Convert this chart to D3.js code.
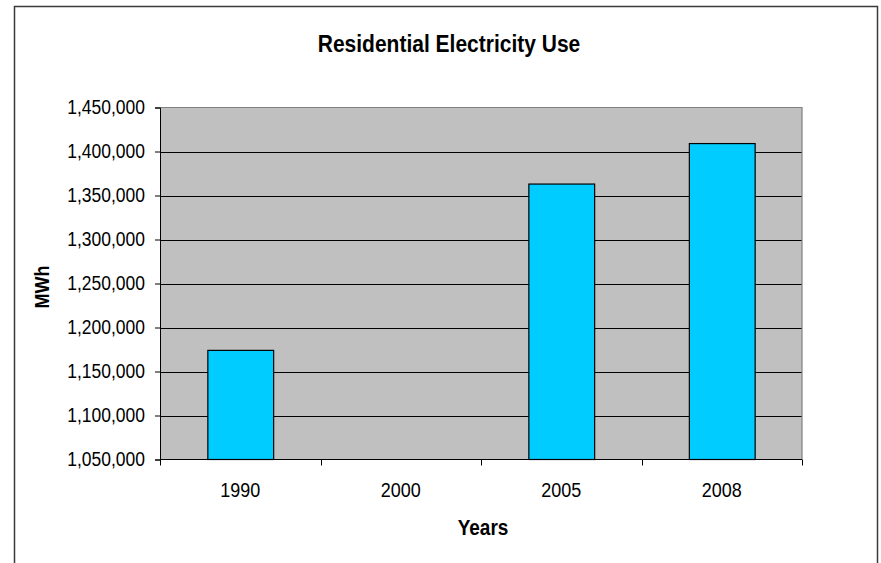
<!DOCTYPE html>
<html>
<head>
<meta charset="utf-8">
<script src="https://cdn.jsdelivr.net/npm/d3@7"></script>
<style>
  html, body { margin: 0; padding: 0; background: #fff; }
  svg { display: block; }
  text { font-family: "Liberation Sans", Arial, sans-serif; fill: #000; }
</style>
</head>
<body>
<svg id="chart" width="881" height="563"></svg>
<script>
const title = "Residential Electricity Use";
const xTitle = "Years";
const yTitle = "MWh";
const categories = ["1990", "2000", "2005", "2008"];
const values = [1174000, null, 1363000, 1409000];
const yTicks = [1050000, 1100000, 1150000, 1200000, 1250000, 1300000, 1350000, 1400000, 1450000];
const yDomain = [1050000, 1450000];

const W = 881, H = 563;
const plot = { left: 160, right: 802, top: 107.5, bottom: 459.5 };
const SY = 1.12; // vertical stretch of the reference's text

const svg = d3.select("#chart");

// outer chart border (left, top, right; bottom is off-frame)
svg.append("path")
  .attr("d", `M14.5,${H} L14.5,6.5 L877.5,6.5 L877.5,${H}`)
  .attr("fill", "none").attr("stroke", "#3a3a3a").attr("stroke-width", 1.5);

const x = d3.scaleBand().domain(categories).range([plot.left, plot.right]).paddingInner(0.59).paddingOuter(0.295);
const xb = d3.scaleBand().domain(categories).range([plot.left, plot.right]);
const y = d3.scaleLinear().domain(yDomain).range([plot.bottom, plot.top]);

// plot background
svg.append("rect")
  .attr("x", plot.left).attr("y", plot.top)
  .attr("width", plot.right - plot.left).attr("height", plot.bottom - plot.top)
  .attr("fill", "#c0c0c0");

// gridlines
svg.append("g").selectAll("line")
  .data(yTicks.filter(d => d !== yDomain[0] && d !== yDomain[1]))
  .join("line")
  .attr("x1", plot.left).attr("x2", plot.right)
  .attr("y1", d => Math.round(y(d)) + 0.5).attr("y2", d => Math.round(y(d)) + 0.5)
  .attr("stroke", "#000").attr("stroke-width", 1);

// plot border top/right (gray)
svg.append("path")
  .attr("d", `M${plot.left},${plot.top} L${plot.right},${plot.top} L${plot.right},${plot.bottom}`)
  .attr("fill", "none").attr("stroke", "#808080").attr("stroke-width", 1.2);

// bars
svg.append("g").selectAll("rect")
  .data(categories.map((c, i) => ({ c, v: values[i] })).filter(d => d.v != null))
  .join("rect")
  .attr("x", d => x(d.c) + 0.5)
  .attr("y", d => y(d.v))
  .attr("width", x.bandwidth())
  .attr("height", d => y(yDomain[0]) - y(d.v))
  .attr("fill", "#00ccff").attr("stroke", "#000").attr("stroke-width", 1.2);

// y axis
const yAxis = d3.axisLeft(y).tickValues(yTicks).tickFormat(d3.format(",")).tickSizeOuter(0).tickSize(5).tickPadding(10);
const gy = svg.append("g").attr("transform", `translate(${plot.left},0)`).call(yAxis);
gy.select(".domain").attr("stroke", "#000");
gy.selectAll(".tick line").attr("stroke", "#000");
gy.selectAll(".tick text")
  .attr("font-size", "17.5px").attr("font-family", "Liberation Sans, Arial, sans-serif").attr("fill", "#000")
  .attr("transform", `scale(1,${SY})`);

// x axis: ticks at band boundaries
const gx = svg.append("g").attr("transform", `translate(0,${plot.bottom})`);
gx.append("line").attr("x1", plot.left).attr("x2", plot.right).attr("y1", 0).attr("y2", 0).attr("stroke", "#000");
const bounds = categories.map(c => xb(c)).concat([plot.right]);
gx.selectAll("line.tk").data(bounds).join("line").attr("class", "tk")
  .attr("x1", d => Math.round(d) + 0.5).attr("x2", d => Math.round(d) + 0.5)
  .attr("y1", 0).attr("y2", 6).attr("stroke", "#000");
gx.selectAll("text").data(categories).join("text")
  .attr("transform", d => `translate(${xb(d) + xb.bandwidth() / 2},37.5) scale(1,${SY})`)
  .attr("text-anchor", "middle")
  .attr("font-size", "18px")
  .text(d => d);

// titles
svg.append("text").attr("transform", `translate(449,52) scale(1,${SY})`)
  .attr("text-anchor", "middle").attr("font-weight", "bold").attr("font-size", "21px")
  .text(title);
svg.append("text").attr("transform", `translate(483,535) scale(1,${SY})`)
  .attr("text-anchor", "middle").attr("font-weight", "bold").attr("font-size", "19px")
  .text(xTitle);
svg.append("text").attr("transform", `translate(49,287) rotate(-90) scale(1,${SY})`)
  .attr("text-anchor", "middle").attr("font-weight", "bold").attr("font-size", "18px")
  .text(yTitle);
</script>
</body>
</html>
